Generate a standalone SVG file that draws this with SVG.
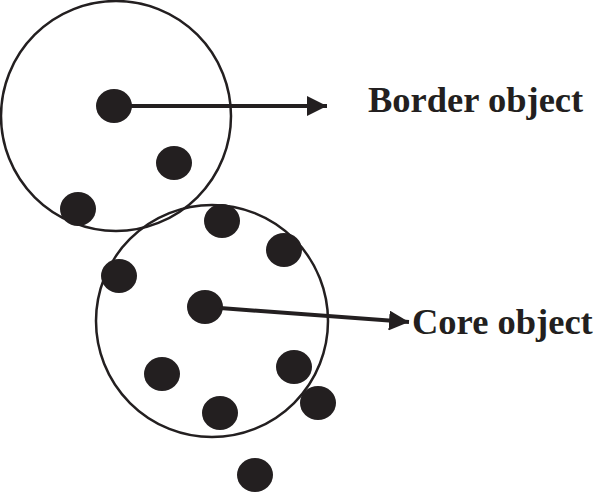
<svg xmlns="http://www.w3.org/2000/svg" width="595" height="493" viewBox="0 0 595 493">
<defs>
<style>
.ring{fill:none;stroke:#231f20;stroke-width:2.5}
.dot{fill:#231f20}
.lbl{font-family:"Liberation Serif","Times New Roman",serif;font-weight:bold;font-size:36.5px;fill:#231f20}
.conn{stroke:#231f20;stroke-width:4;fill:none}
</style>
<marker id="ah" viewBox="0 0 10 10" refX="10" refY="5" markerWidth="5" markerHeight="5" markerUnits="strokeWidth" orient="auto">
<path d="M0,0 L10,5 L0,10 Z" fill="#231f20"/>
</marker>
</defs>
<rect width="595" height="493" fill="#fff"/>
<g id="region1"><circle class="ring" cx="116" cy="116" r="115"/></g>
<g id="region2"><circle class="ring" cx="212" cy="321" r="116"/></g>
<g id="dots">
<ellipse id="p1" class="dot" cx="114" cy="106" rx="18" ry="17"/>
<ellipse id="p2" class="dot" cx="174" cy="163" rx="18" ry="17"/>
<ellipse id="p3" class="dot" cx="78" cy="209" rx="18" ry="17"/>
<ellipse id="p4" class="dot" cx="222" cy="221" rx="18" ry="17"/>
<ellipse id="p5" class="dot" cx="284" cy="250" rx="18" ry="17"/>
<ellipse id="p6" class="dot" cx="119" cy="276" rx="18" ry="17"/>
<ellipse id="p7" class="dot" cx="205" cy="307" rx="18" ry="17"/>
<ellipse id="p8" class="dot" cx="162" cy="374" rx="18" ry="17"/>
<ellipse id="p9" class="dot" cx="294" cy="367" rx="18" ry="17"/>
<ellipse id="p10" class="dot" cx="220" cy="413" rx="18" ry="17"/>
<ellipse id="p11" class="dot" cx="318" cy="403" rx="18" ry="17"/>
<ellipse id="p12" class="dot" cx="255" cy="475" rx="18" ry="17"/>
</g>
<g id="connectors">
<line class="conn" x1="130" y1="106" x2="327" y2="106" marker-end="url(#ah)"/>
<line class="conn" x1="220" y1="308" x2="409" y2="322" marker-end="url(#ah)"/>
</g>
<g id="label-border"><text class="lbl" x="368" y="112">Border object</text></g>
<g id="label-core"><text class="lbl" x="412" y="334">Core object</text></g>
</svg>
